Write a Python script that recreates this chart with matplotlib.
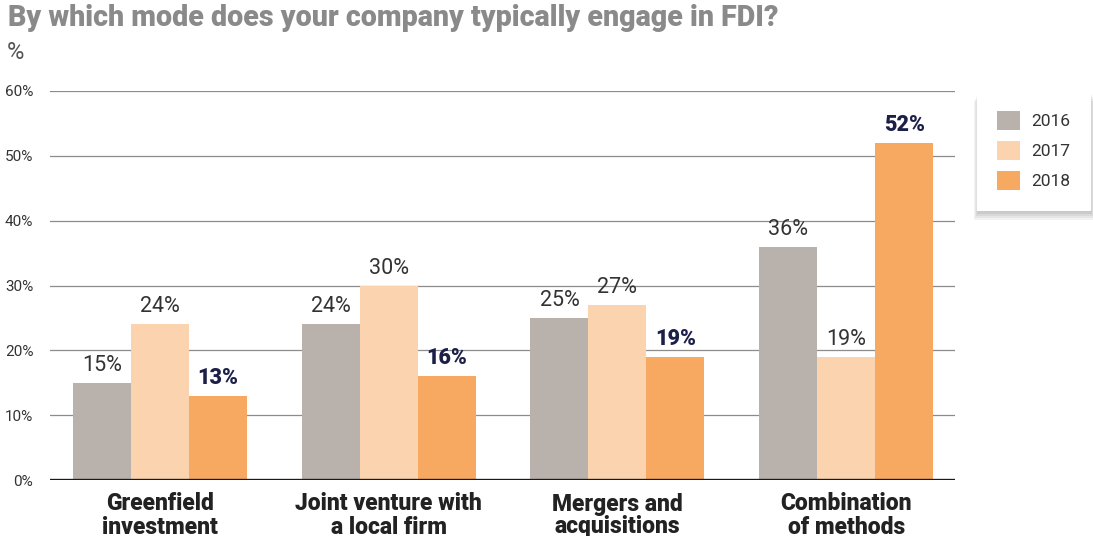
#!/usr/bin/env python3

import numpy as np
import matplotlib
matplotlib.use('Agg')
import matplotlib.pyplot as plt
from matplotlib.patches import Rectangle

CATEGORIES = ['Greenfield\ninvestment', 'Joint venture with\na local firm',
              'Mergers and\nacquisitions', 'Combination\nof methods']
YEARS = ['2016', '2017', '2018']
VALUES_2016 = [15, 24, 25, 36]
VALUES_2017 = [24, 30, 27, 19]
VALUES_2018 = [13, 16, 19, 52]
Y_TICKS = [0, 10, 20, 30, 40, 50, 60]

COLORS = ['#b9b1ac', '#fbd3ae', '#f7a861']
TEXT_DARK = '#333333'
NAVY = '#1c2049'

plt.rcParams['font.family'] = ['Roboto', 'DejaVu Sans']

W, H = 1093, 536
fig = plt.figure(figsize=(W / 100, H / 100), dpi=100)
ax = fig.add_axes([50 / W, 56 / H, (955 - 50) / W, (445 - 56) / H])

x = np.arange(len(CATEGORIES))
width = 0.2536
series = [VALUES_2016, VALUES_2017, VALUES_2018]
for i, (vals, year) in enumerate(zip(series, YEARS)):
    b = ax.bar(x + (i - 1) * width, vals, width, color=COLORS[i], label=year,
               zorder=3, linewidth=0)
    for rect, v in zip(b, vals):
        bold = i == 2
        ax.annotate(f'{v}%', (rect.get_x() + rect.get_width() / 2, v),
                    xytext=(0, 5), textcoords='offset points',
                    ha='center', va='bottom', fontsize=15.5,
                    fontweight='heavy' if bold else 'normal',
                    color=NAVY if bold else TEXT_DARK, zorder=4)

ax.set_xlim(-0.481, 3.476)
ax.set_ylim(0, 60)
ax.set_yticks(Y_TICKS)
ax.set_yticklabels([f'{t}%' for t in Y_TICKS], fontsize=11, color='#333333')
ax.yaxis.grid(True, color='#8c8c8c', linewidth=0.9, zorder=0)
ax.axhline(0, color='#1a1a1a', linewidth=2.4, zorder=5)
ax.set_xticks(x)
ax.set_xticklabels(CATEGORIES, fontsize=16.5, fontweight='heavy',
                   color='#222222', linespacing=1.0)
ax.tick_params(axis='both', length=0)
ax.tick_params(axis='x', pad=9)
ax.tick_params(axis='y', pad=12)
for s in ax.spines.values():
    s.set_visible(False)
ax.set_axisbelow(True)

fig.text(8 / W, 1 - 4 / H, 'By which mode does your company typically engage in FDI?',
         fontsize=20.6, fontweight='heavy', color='#8a8a8a', ha='left', va='top')
fig.text(7 / W, 1 - 41 / H, '%', fontsize=17, fontweight='normal',
         color='#555555', ha='left', va='top')

leg = fig.legend(loc='upper left', bbox_to_anchor=(977 / W, 1 - 91 / H),
                 fontsize=12.5, frameon=True, fancybox=False,
                 edgecolor='white', facecolor='white', framealpha=1,
                 handlelength=1.35, handleheight=1.32, labelspacing=0.62,
                 handletextpad=0.6, borderpad=1.15, borderaxespad=0)
leg.set_zorder(10)
for t in leg.get_texts():
    t.set_color('#333333')

# soft shadow under the legend box
fig.canvas.draw()
bb = leg.get_window_extent()
for k, a in enumerate([0.10, 0.10, 0.12, 0.15, 0.2]):
    grow = 4 - k
    fig.add_artist(Rectangle(((bb.x0 - grow + 1) / W, (bb.y0 - 6 - grow + k) / H),
                             (bb.width + 2 * grow) / W, (bb.height) / H,
                             transform=fig.transFigure, facecolor='#808080',
                             edgecolor='none', alpha=a, zorder=5))

fig.savefig('out.png', dpi=100)
